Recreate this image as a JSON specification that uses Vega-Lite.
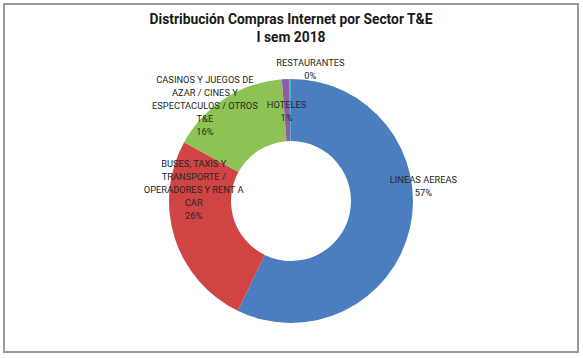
{
  "$schema": "https://vega.github.io/schema/vega-lite/v6.json",
  "width": 583,
  "height": 358,
  "autosize": {"type": "fit", "contains": "padding"},
  "padding": {"left": 3, "top": 3, "right": 4, "bottom": 5},
  "background": "#ffffff",
  "config": {
    "view": {"stroke": null},
    "text": {"font": "Roboto", "fontSize": 9.3, "color": "#262626", "lineBreak": "\n", "lineHeight": 13, "baseline": "middle", "align": "center"}
  },
  "title": {
    "text": ["Distribución Compras Internet por Sector T&E", "I sem 2018"],
    "font": "Roboto",
    "fontSize": 13.8,
    "fontWeight": "bold",
    "color": "#1a1a1a",
    "lineHeight": 18.5,
    "anchor": "middle",
    "offset": -42
  },
  "data": {
    "values": [
      {"name": "LINEAS AEREAS", "value": 57.2, "ord": 1, "label": "LINEAS  AEREAS\n57%"},
      {"name": "BUSES", "value": 25.8, "ord": 2, "label": "BUSES,  TAXIS Y\nTRANSPORTE  /\nOPERADORES Y RENT A\nCAR\n26%"},
      {"name": "CASINOS", "value": 15.8, "ord": 3, "label": "CASINOS Y JUEGOS  DE\nAZAR  / CINES Y\nESPECTACULOS   / OTROS\nT&E\n16%"},
      {"name": "HOTELES", "value": 1.0, "ord": 4, "label": "HOTELES\n1%"},
      {"name": "RESTAURANTES", "value": 0.2, "ord": 5, "label": "RESTAURANTES\n0%"}
    ]
  },
  "layer": [
    {
      "data": {"values": [{"frame": "border"}]},
      "mark": {"type": "rect", "fill": null, "fillOpacity": 0, "stroke": "#9a9a9a", "strokeWidth": 2},
      "encoding": {}
    },
    {
      "mark": {"type": "arc", "innerRadius": 60, "outerRadius": 122, "yOffset": 23, "strokeWidth": 0},
      "encoding": {
        "theta": {"field": "value", "type": "quantitative", "stack": true},
        "order": {"field": "ord", "type": "quantitative"},
        "color": {
          "field": "name",
          "type": "nominal",
          "legend": null,
          "scale": {
            "domain": ["LINEAS AEREAS", "BUSES", "CASINOS", "HOTELES", "RESTAURANTES"],
            "range": ["#4a7ebe", "#d04444", "#8dc254", "#8e5ca8", "#4bacc6"]
          }
        }
      }
    },
    {
      "mark": {"type": "text", "radius": 100, "yOffset": 23, "dx": 35, "dy": -43},
      "encoding": {
        "theta": {"field": "value", "type": "quantitative", "stack": true},
        "order": {"field": "ord", "type": "quantitative"},
        "text": {"condition": {"test": "datum.name === 'LINEAS AEREAS'", "field": "label"}, "value": ""}
      }
    },
    {
      "mark": {"type": "text", "radius": 100, "yOffset": 23, "dx": -2, "dy": -67},
      "encoding": {
        "theta": {"field": "value", "type": "quantitative", "stack": true},
        "order": {"field": "ord", "type": "quantitative"},
        "text": {"condition": {"test": "datum.name === 'BUSES'", "field": "label"}, "value": ""}
      }
    },
    {
      "mark": {"type": "text", "radius": 100, "yOffset": 23, "dx": -32, "dy": -37},
      "encoding": {
        "theta": {"field": "value", "type": "quantitative", "stack": true},
        "order": {"field": "ord", "type": "quantitative"},
        "text": {"condition": {"test": "datum.name === 'CASINOS'", "field": "label"}, "value": ""}
      }
    },
    {
      "mark": {"type": "text", "radius": 100, "yOffset": 23, "dx": 0, "dy": 4},
      "encoding": {
        "theta": {"field": "value", "type": "quantitative", "stack": true},
        "order": {"field": "ord", "type": "quantitative"},
        "text": {"condition": {"test": "datum.name === 'HOTELES'", "field": "label"}, "value": ""}
      }
    },
    {
      "mark": {"type": "text", "radius": 100, "yOffset": 23, "dx": 20, "dy": -38},
      "encoding": {
        "theta": {"field": "value", "type": "quantitative", "stack": true},
        "order": {"field": "ord", "type": "quantitative"},
        "text": {"condition": {"test": "datum.name === 'RESTAURANTES'", "field": "label"}, "value": ""}
      }
    }
  ]
}
